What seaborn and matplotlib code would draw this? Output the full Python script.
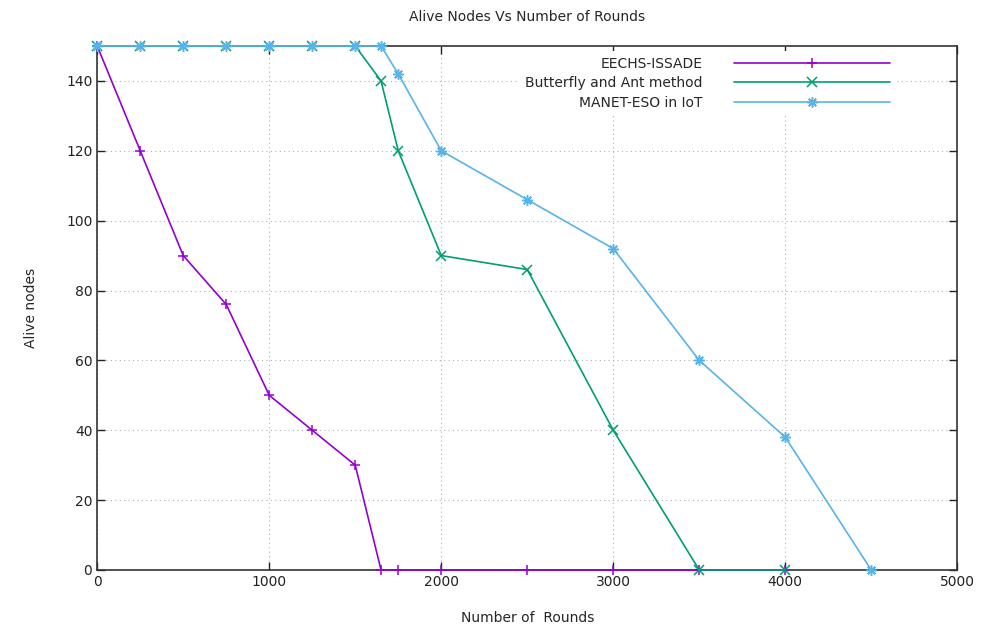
import numpy as np
import pandas as pd
import matplotlib
matplotlib.use("Agg")
import matplotlib.pyplot as plt
import seaborn as sns

####################################################################################
## data
####################################################################################
eechs_rounds = [0, 250, 500, 750, 1000, 1250, 1500, 1650, 1750, 2000, 2500, 3000, 3500, 4000]
eechs_alive = [150, 120, 90, 76, 50, 40, 30, 0, 0, 0, 0, 0, 0, 0]

butterfly_rounds = [0, 250, 500, 750, 1000, 1250, 1500, 1650, 1750, 2000, 2500, 3000, 3500, 4000]
butterfly_alive = [150, 150, 150, 150, 150, 150, 150, 140, 120, 90, 86, 40, 0, 0]

manet_rounds = [0, 250, 500, 750, 1000, 1250, 1500, 1650, 1750, 2000, 2500, 3000, 3500, 4000, 4500]
manet_alive = [150, 150, 150, 150, 150, 150, 150, 150, 142, 120, 106, 92, 60, 38, 0]

labels = ["EECHS-ISSADE", "Butterfly and Ant method", "MANET-ESO in IoT"]
colors = ["#9400d3", "#009e73", "#56b4e9"]
markers = ["+", "x", (8, 2, 0)]

series = [
    (eechs_rounds, eechs_alive),
    (butterfly_rounds, butterfly_alive),
    (manet_rounds, manet_alive),
]

####################################################################################
## plot
####################################################################################
sns.set_style("ticks")
plt.rcParams["font.family"] = ["DejaVu Sans"]
plt.rcParams["font.size"] = 10

fig = plt.figure(figsize=(9.92, 6.28), dpi=100)
ax = fig.add_axes([0.098, 0.0924, 0.867, 0.8344])

for (xs, ys), lab, col, mk in zip(series, labels, colors, markers):
    df = pd.DataFrame({"rounds": xs, "alive": ys})
    sns.lineplot(data=df, x="rounds", y="alive", ax=ax, color=col, label=lab,
                 marker=mk, markersize=7.5, markeredgewidth=1.1, markeredgecolor=col,
                 linewidth=1.2, sort=False, estimator=None, clip_on=False, zorder=3)

ax.set_xlim(0, 5000)
ax.set_ylim(0, 150)
ax.set_xticks(np.arange(0, 5001, 1000))
ax.set_yticks(np.arange(0, 141, 20))
ax.grid(True, linestyle=(0, (1, 3)), color="#b0b0b0", linewidth=0.8)
ax.tick_params(direction="in", top=True, right=True, length=6, width=1,
               labelsize=10, colors="#222222")
for sp in ax.spines.values():
    sp.set_color("#333333")
    sp.set_linewidth(1.2)

ax.set_title("Alive Nodes Vs Number of Rounds", fontsize=10, pad=18)
ax.set_xlabel("Number of  Rounds", fontsize=10, labelpad=16)
ax.set_ylabel("Alive nodes", fontsize=10, labelpad=20)

leg = ax.legend(loc="upper right", bbox_to_anchor=(0.928, 0.99), borderaxespad=0,
                markerfirst=False, frameon=True, fancybox=False, framealpha=1,
                handlelength=11.2, handletextpad=2.3, labelspacing=0.4, fontsize=10)
leg.get_frame().set_linewidth(0)
leg.get_frame().set_facecolor("white")
leg.set_zorder(5)

fig.savefig("out.png", dpi=100)
